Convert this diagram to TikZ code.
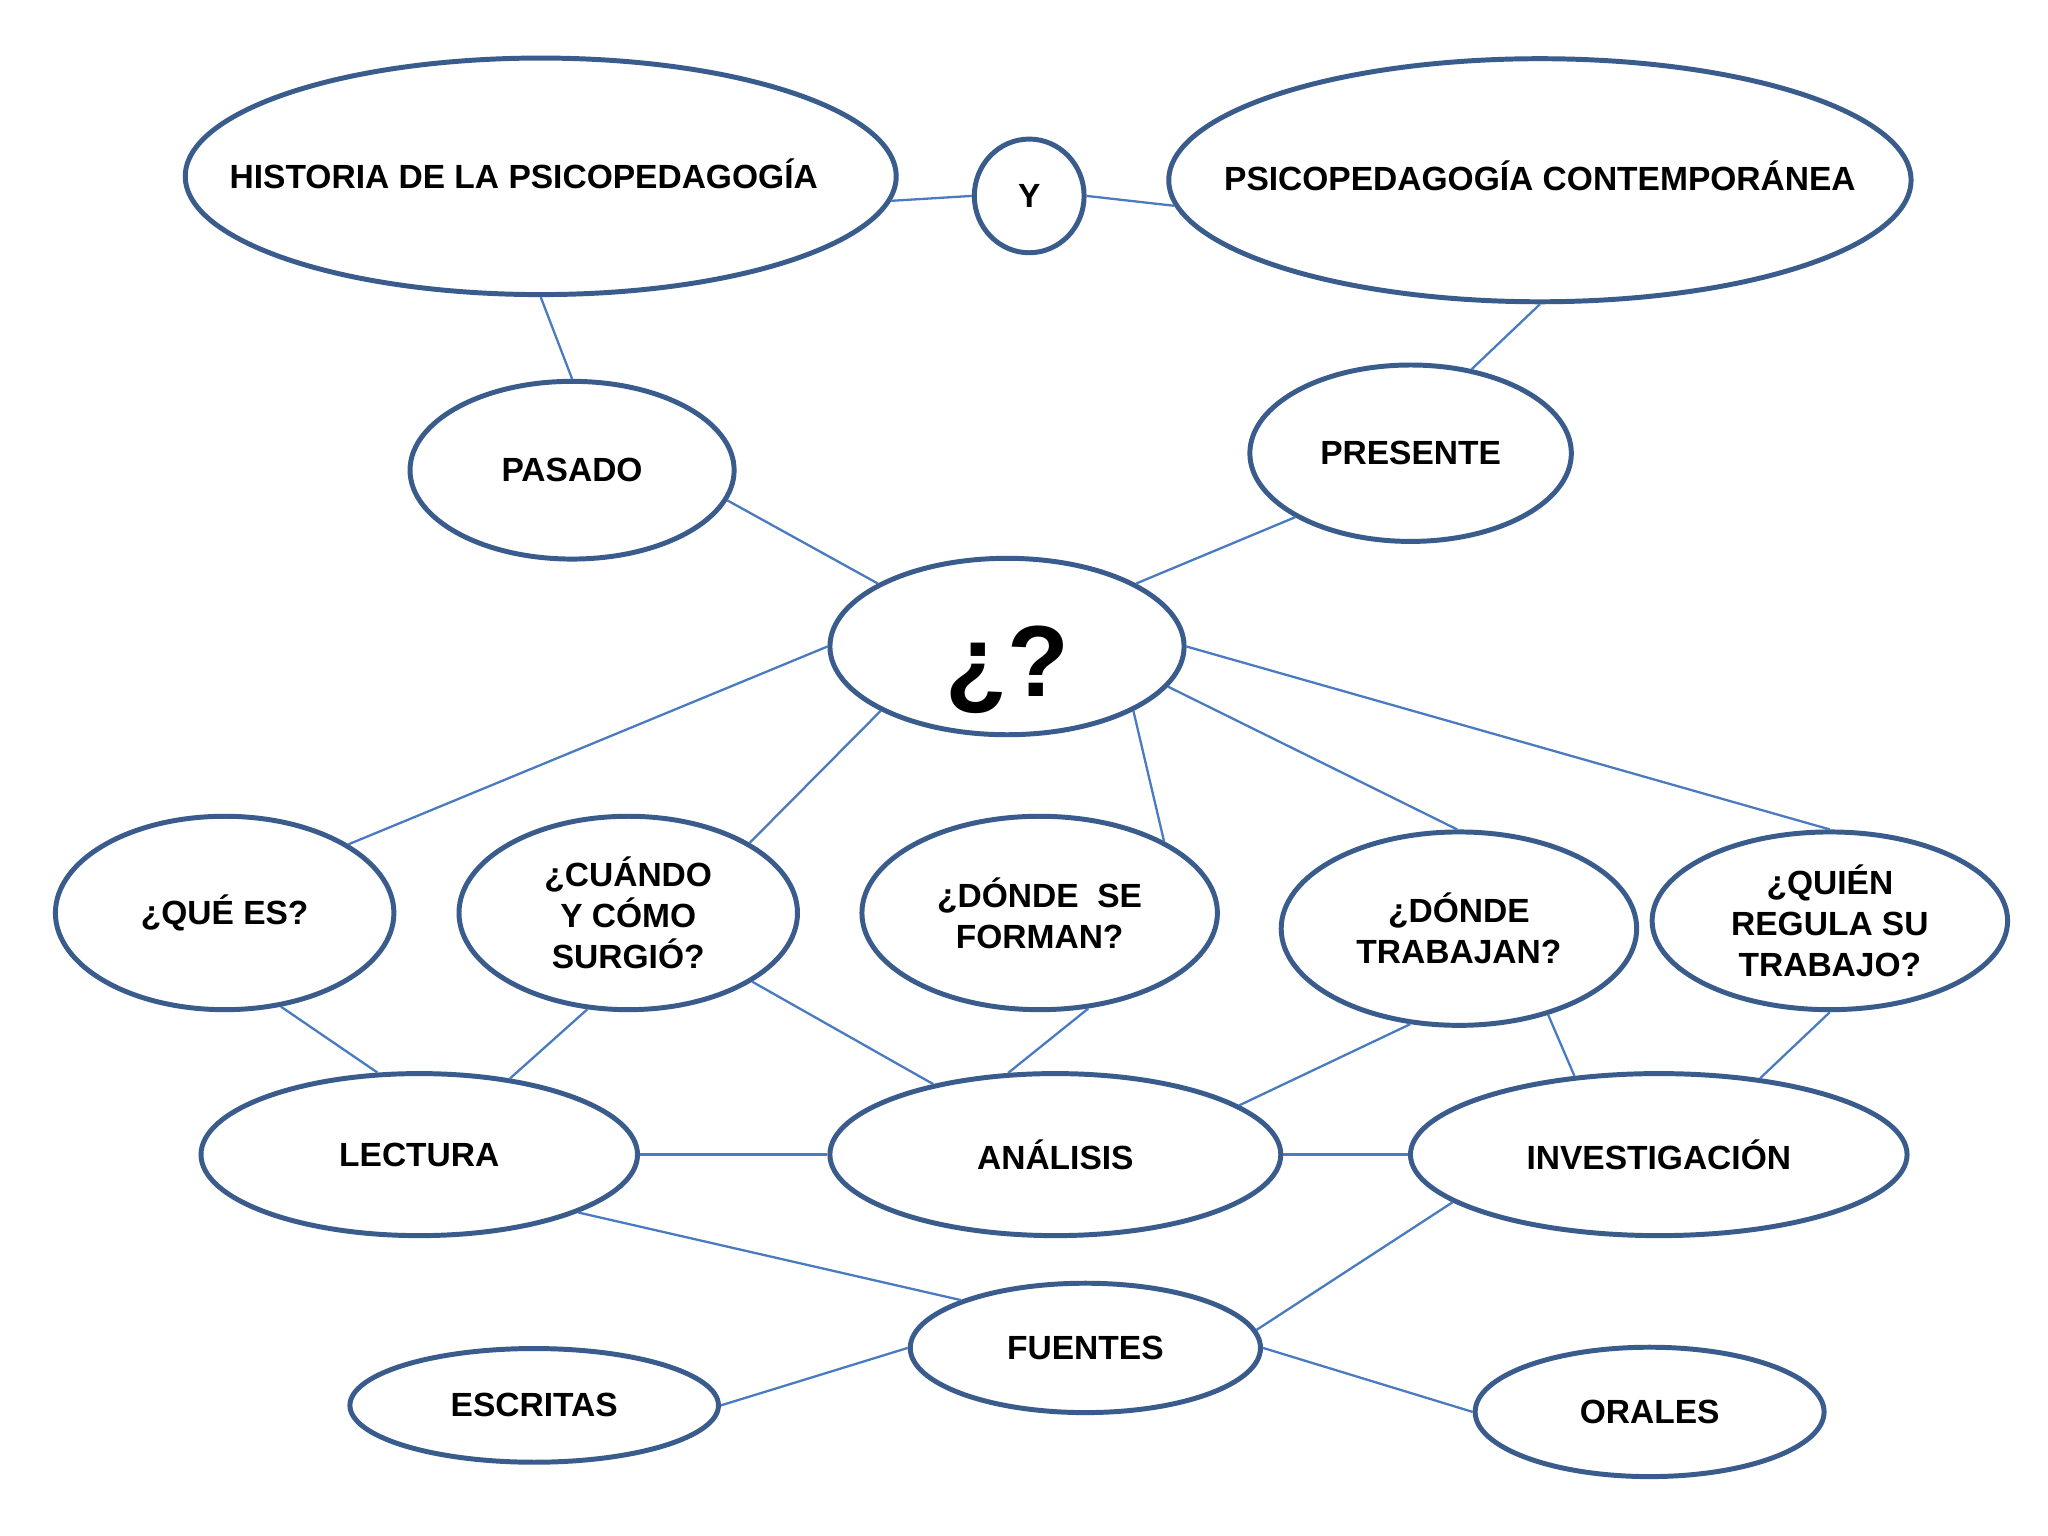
\documentclass[tikz,border=0pt]{standalone}
\usepackage{fontspec}
\setmainfont{Liberation Sans}
\usetikzlibrary{shapes.geometric}
\definecolor{edgeblue}{RGB}{58,92,140}
\definecolor{linkblue}{RGB}{74,123,192}
\begin{document}
\begin{tikzpicture}[x=0.01cm,y=-0.01cm,
  bub/.style 2 args={ellipse, draw=edgeblue, line width=1.08pt, fill=white,
    minimum width=#1cm, minimum height=#2cm, inner sep=0pt, align=center,
    font=\fontsize{7.3}{8.9}\selectfont\bfseries},
  conn/.style={draw=linkblue, line width=0.5pt}]
\useasboundingbox[fill=white] (0,0) rectangle (1568,1176);

\node[bub={5.44}{1.81}] (hist) at (414,135) {\raisebox{0.04cm}{\makebox[0pt]{HISTORIA DE LA PSICOPEDAGOGÍA\hspace{0.26cm}}}};
\node[bub={0.84}{0.87}] (y) at (788,150) {Y};
\node[bub={5.68}{1.86}] (psico) at (1179,138) {\raisebox{0.07cm}{\makebox[0pt]{PSICOPEDAGOGÍA CONTEMPORÁNEA}}};
\node[bub={2.48}{1.36}] (pasado) at (438,360) {PASADO};
\node[bub={2.46}{1.35}] (presente) at (1080,347) {PRESENTE};
\node[bub={2.71}{1.35}] (q) at (771,495) {\fontsize{22}{22}\selectfont\raisebox{-0.38cm}[0pt][0pt]{¿?}};
\node[bub={2.59}{1.48}] (quees) at (172,699) {¿QUÉ ES?};
\node[bub={2.59}{1.48}] (cuando) at (481,699) {¿CUÁNDO\\Y CÓMO\\SURGIÓ?};
\node[bub={2.72}{1.48}] (donde) at (796,699) {¿DÓNDE\ \ SE\\FORMAN?};
\node[bub={2.72}{1.48}] (trabajan) at (1117,711) {¿DÓNDE\\TRABAJAN?};
\node[bub={2.72}{1.36}] (quien) at (1401,705) {¿QUIÉN\\REGULA SU\\TRABAJO?};
\node[bub={3.34}{1.24}] (lectura) at (321,884) {LECTURA};
\node[bub={3.45}{1.24}] (analisis) at (808,884) {ANÁLISIS};
\node[bub={3.80}{1.24}] (invest) at (1270,884) {INVESTIGACIÓN};
\node[bub={2.68}{0.99}] (fuentes) at (831,1032) {FUENTES};
\node[bub={2.82}{0.87}] (escritas) at (409,1076) {ESCRITAS};
\node[bub={2.67}{0.99}] (orales) at (1263,1081) {ORALES};

\draw[conn] (hist.-4) -- (y.180);
\draw[conn] (y.0) -- (psico.184);
\draw[conn] (hist.-90) -- (pasado.90);
\draw[conn] (psico.-90) -- (presente.54);
\draw[conn] (pasado.-11) -- (q.154);
\draw[conn] (presente.209) -- (q.26);
\draw[conn] (q.180) -- (quees.29);
\draw[conn] (q.207) -- (cuando.30);
\draw[conn] (q.-27) -- (donde.30);
\draw[conn] (q.-14.5) -- (trabajan.91);
\draw[conn] (q.0) -- (quien.90);
\draw[conn] (quees.-59) -- (lectura.117);
\draw[conn] (cuando.247) -- (lectura.40);
\draw[conn] (cuando.-29) -- (analisis.150);
\draw[conn] (donde.-63) -- (analisis.120);
\draw[conn] (trabajan.243) -- (analisis.15);
\draw[conn] (trabajan.-44) -- (invest.137);
\draw[conn] (quien.-90) -- (invest.37);
\draw[conn] (lectura.0) -- (analisis.180);
\draw[conn] (analisis.0) -- (invest.180);
\draw[conn] (lectura.-20) -- (fuentes.159);
\draw[conn] (invest.193) -- (fuentes.6);
\draw[conn] (fuentes.180) -- (escritas.0);
\draw[conn] (fuentes.0) -- (orales.180);
\end{tikzpicture}
\end{document}
